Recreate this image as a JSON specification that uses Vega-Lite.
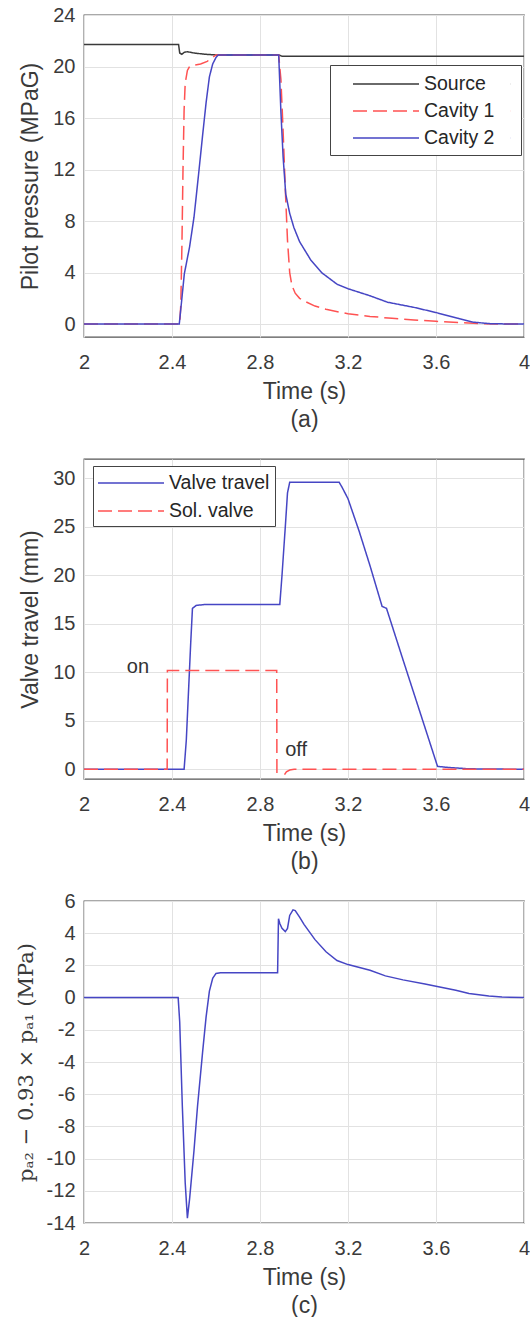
{
  "$schema": "https://vega.github.io/schema/vega-lite/v6.json",
  "padding": {"left": 14, "top": 4, "right": 0, "bottom": 0},
  "background": "white",
  "datasets": {
    "pa": [
      {"s": "Source", "t": 2.0, "v": 21.7}, {"s": "Source", "t": 2.43, "v": 21.7}, {"s": "Source", "t": 2.435, "v": 21.05}, {"s": "Source", "t": 2.445, "v": 20.95}, {"s": "Source", "t": 2.455, "v": 21.1}, {"s": "Source", "t": 2.47, "v": 21.15}, {"s": "Source", "t": 2.5, "v": 21.05}, {"s": "Source", "t": 2.55, "v": 20.95}, {"s": "Source", "t": 2.6, "v": 20.9}, {"s": "Source", "t": 2.885, "v": 20.9}, {"s": "Source", "t": 2.9, "v": 20.8}, {"s": "Source", "t": 4.0, "v": 20.8},
      {"s": "Cavity 1", "t": 2.0, "v": 0}, {"s": "Cavity 1", "t": 2.435, "v": 0}, {"s": "Cavity 1", "t": 2.44, "v": 1.5}, {"s": "Cavity 1", "t": 2.445, "v": 6}, {"s": "Cavity 1", "t": 2.45, "v": 12}, {"s": "Cavity 1", "t": 2.455, "v": 16.6}, {"s": "Cavity 1", "t": 2.46, "v": 18.7}, {"s": "Cavity 1", "t": 2.47, "v": 19.7}, {"s": "Cavity 1", "t": 2.48, "v": 20.0}, {"s": "Cavity 1", "t": 2.5, "v": 20.1}, {"s": "Cavity 1", "t": 2.53, "v": 20.2}, {"s": "Cavity 1", "t": 2.56, "v": 20.4}, {"s": "Cavity 1", "t": 2.58, "v": 20.65}, {"s": "Cavity 1", "t": 2.6, "v": 20.9}, {"s": "Cavity 1", "t": 2.885, "v": 20.9}, {"s": "Cavity 1", "t": 2.895, "v": 19}, {"s": "Cavity 1", "t": 2.905, "v": 15}, {"s": "Cavity 1", "t": 2.915, "v": 10.5}, {"s": "Cavity 1", "t": 2.925, "v": 6.5}, {"s": "Cavity 1", "t": 2.935, "v": 4.0}, {"s": "Cavity 1", "t": 2.945, "v": 3.0}, {"s": "Cavity 1", "t": 2.96, "v": 2.4}, {"s": "Cavity 1", "t": 2.98, "v": 2.0}, {"s": "Cavity 1", "t": 3.0, "v": 1.8}, {"s": "Cavity 1", "t": 3.05, "v": 1.4}, {"s": "Cavity 1", "t": 3.1, "v": 1.15}, {"s": "Cavity 1", "t": 3.2, "v": 0.8}, {"s": "Cavity 1", "t": 3.3, "v": 0.6}, {"s": "Cavity 1", "t": 3.4, "v": 0.45}, {"s": "Cavity 1", "t": 3.5, "v": 0.32}, {"s": "Cavity 1", "t": 3.6, "v": 0.22}, {"s": "Cavity 1", "t": 3.7, "v": 0.12}, {"s": "Cavity 1", "t": 3.8, "v": 0.04}, {"s": "Cavity 1", "t": 3.9, "v": 0}, {"s": "Cavity 1", "t": 4.0, "v": 0},
      {"s": "Cavity 2", "t": 2.0, "v": 0}, {"s": "Cavity 2", "t": 2.433, "v": 0}, {"s": "Cavity 2", "t": 2.445, "v": 2}, {"s": "Cavity 2", "t": 2.456, "v": 3.9}, {"s": "Cavity 2", "t": 2.48, "v": 6.0}, {"s": "Cavity 2", "t": 2.5, "v": 8.3}, {"s": "Cavity 2", "t": 2.52, "v": 11.5}, {"s": "Cavity 2", "t": 2.54, "v": 14.8}, {"s": "Cavity 2", "t": 2.555, "v": 17.2}, {"s": "Cavity 2", "t": 2.57, "v": 19.2}, {"s": "Cavity 2", "t": 2.585, "v": 20.2}, {"s": "Cavity 2", "t": 2.6, "v": 20.7}, {"s": "Cavity 2", "t": 2.61, "v": 20.9}, {"s": "Cavity 2", "t": 2.885, "v": 20.9}, {"s": "Cavity 2", "t": 2.895, "v": 16.5}, {"s": "Cavity 2", "t": 2.905, "v": 13}, {"s": "Cavity 2", "t": 2.917, "v": 10.1}, {"s": "Cavity 2", "t": 2.935, "v": 8.6}, {"s": "Cavity 2", "t": 2.954, "v": 7.5}, {"s": "Cavity 2", "t": 2.98, "v": 6.4}, {"s": "Cavity 2", "t": 3.03, "v": 5.0}, {"s": "Cavity 2", "t": 3.08, "v": 4.0}, {"s": "Cavity 2", "t": 3.15, "v": 3.1}, {"s": "Cavity 2", "t": 3.2, "v": 2.75}, {"s": "Cavity 2", "t": 3.3, "v": 2.2}, {"s": "Cavity 2", "t": 3.38, "v": 1.7}, {"s": "Cavity 2", "t": 3.5, "v": 1.3}, {"s": "Cavity 2", "t": 3.6, "v": 0.9}, {"s": "Cavity 2", "t": 3.7, "v": 0.45}, {"s": "Cavity 2", "t": 3.77, "v": 0.15}, {"s": "Cavity 2", "t": 3.85, "v": 0.03}, {"s": "Cavity 2", "t": 4.0, "v": 0}
    ],
    "pb": [
      {"s": "Valve travel", "t": 2.0, "v": 0}, {"s": "Valve travel", "t": 2.455, "v": 0}, {"s": "Valve travel", "t": 2.465, "v": 3}, {"s": "Valve travel", "t": 2.475, "v": 8}, {"s": "Valve travel", "t": 2.485, "v": 13}, {"s": "Valve travel", "t": 2.493, "v": 16.6}, {"s": "Valve travel", "t": 2.51, "v": 16.9}, {"s": "Valve travel", "t": 2.55, "v": 17.0}, {"s": "Valve travel", "t": 2.89, "v": 17.0}, {"s": "Valve travel", "t": 2.9, "v": 20}, {"s": "Valve travel", "t": 2.915, "v": 25}, {"s": "Valve travel", "t": 2.925, "v": 28.5}, {"s": "Valve travel", "t": 2.935, "v": 29.6}, {"s": "Valve travel", "t": 3.16, "v": 29.6}, {"s": "Valve travel", "t": 3.175, "v": 29.0}, {"s": "Valve travel", "t": 3.2, "v": 27.9}, {"s": "Valve travel", "t": 3.25, "v": 24.6}, {"s": "Valve travel", "t": 3.3, "v": 21.0}, {"s": "Valve travel", "t": 3.355, "v": 16.8}, {"s": "Valve travel", "t": 3.375, "v": 16.6}, {"s": "Valve travel", "t": 3.45, "v": 11.3}, {"s": "Valve travel", "t": 3.5, "v": 7.8}, {"s": "Valve travel", "t": 3.55, "v": 4.3}, {"s": "Valve travel", "t": 3.607, "v": 0.3}, {"s": "Valve travel", "t": 3.65, "v": 0.2}, {"s": "Valve travel", "t": 3.75, "v": 0.05}, {"s": "Valve travel", "t": 4.0, "v": 0},
      {"s": "Sol. valve", "t": 2.0, "v": 0}, {"s": "Sol. valve", "t": 2.378, "v": 0}, {"s": "Sol. valve", "t": 2.379, "v": 10.2}, {"s": "Sol. valve", "t": 2.876, "v": 10.2}, {"s": "Sol. valve", "t": 2.877, "v": -1.5}, {"s": "Sol. valve", "t": 2.903, "v": -1.5}, {"s": "Sol. valve", "t": 2.91, "v": -0.6}, {"s": "Sol. valve", "t": 2.92, "v": -0.25}, {"s": "Sol. valve", "t": 2.935, "v": -0.08}, {"s": "Sol. valve", "t": 2.955, "v": 0}, {"s": "Sol. valve", "t": 4.0, "v": 0}
    ],
    "pbtext": [
      {"t": 2.245, "v": 10.6, "label": "on"},
      {"t": 2.964, "v": 2.0, "label": "off"}
    ],
    "pc": [
      {"t": 2.0, "v": 0}, {"t": 2.428, "v": 0}, {"t": 2.435, "v": -1.5}, {"t": 2.447, "v": -6.75}, {"t": 2.46, "v": -11.5}, {"t": 2.47, "v": -13.7}, {"t": 2.48, "v": -12.5}, {"t": 2.5, "v": -9.5}, {"t": 2.516, "v": -6.75}, {"t": 2.539, "v": -3.4}, {"t": 2.555, "v": -1.2}, {"t": 2.57, "v": 0.4}, {"t": 2.585, "v": 1.2}, {"t": 2.6, "v": 1.5}, {"t": 2.62, "v": 1.55}, {"t": 2.88, "v": 1.55}, {"t": 2.884, "v": 4.9}, {"t": 2.89, "v": 4.6}, {"t": 2.9, "v": 4.3}, {"t": 2.915, "v": 4.1}, {"t": 2.925, "v": 4.3}, {"t": 2.935, "v": 5.1}, {"t": 2.95, "v": 5.45}, {"t": 2.96, "v": 5.4}, {"t": 2.98, "v": 5.0}, {"t": 3.0, "v": 4.55}, {"t": 3.05, "v": 3.6}, {"t": 3.1, "v": 2.85}, {"t": 3.15, "v": 2.3}, {"t": 3.2, "v": 2.05}, {"t": 3.3, "v": 1.7}, {"t": 3.37, "v": 1.35}, {"t": 3.45, "v": 1.1}, {"t": 3.55, "v": 0.85}, {"t": 3.6, "v": 0.7}, {"t": 3.69, "v": 0.45}, {"t": 3.75, "v": 0.25}, {"t": 3.84, "v": 0.1}, {"t": 3.9, "v": 0.03}, {"t": 4.0, "v": 0}
    ]
  },
  "bounds": "flush",
  "spacing": 122,
  "vconcat": [
    {
      "width": 440,
      "height": 322,
      "data": {"name": "pa"},
      "mark": {"type": "line", "strokeWidth": 1.5, "clip": true},
      "encoding": {
        "x": {"field": "t", "type": "quantitative", "scale": {"domain": [2, 4], "nice": false, "zero": false}, "axis": {"values": [2, 2.4, 2.8, 3.2, 3.6, 4], "title": ["Time (s)", "(a)"]}},
        "y": {"field": "v", "type": "quantitative", "scale": {"domain": [-1, 24], "nice": false, "zero": false}, "axis": {"values": [0, 4, 8, 12, 16, 20, 24], "title": "Pilot pressure (MPaG)"}},
        "color": {"field": "s", "type": "nominal", "scale": {"domain": ["Source", "Cavity 1", "Cavity 2"], "range": ["#3a3a3a", "#ff5252", "#4646c4"]},
          "legend": {"title": null, "orient": "none", "legendX": 246, "legendY": 50, "padding": 7, "symbolType": "M-3,0H3M11.3,0H11.31", "symbolSize": 484, "symbolOffset": 37, "labelOffset": 26, "rowPadding": 5}},
        "strokeDash": {"field": "s", "type": "nominal", "scale": {"domain": ["Source", "Cavity 1", "Cavity 2"], "range": [[1, 0], [14, 6], [1, 0]]},
          "legend": {"title": null, "orient": "none", "legendX": 246, "legendY": 50, "padding": 7, "symbolType": "M-3,0H3M11.3,0H11.31", "symbolSize": 484, "symbolOffset": 37, "labelOffset": 26, "rowPadding": 5}}
      }
    },
    {
      "width": 440,
      "height": 320,
      "layer": [
        {
          "data": {"name": "pb"},
          "mark": {"type": "line", "strokeWidth": 1.5, "clip": true},
          "encoding": {
            "x": {"field": "t", "type": "quantitative", "scale": {"domain": [2, 4], "nice": false, "zero": false}, "axis": {"values": [2, 2.4, 2.8, 3.2, 3.6, 4], "title": ["Time (s)", "(b)"]}},
            "y": {"field": "v", "type": "quantitative", "scale": {"domain": [-1, 32], "nice": false, "zero": false}, "axis": {"values": [0, 5, 10, 15, 20, 25, 30], "title": "Valve travel (mm)"}},
            "color": {"field": "s", "type": "nominal", "scale": {"domain": ["Valve travel", "Sol. valve"], "range": ["#4646c4", "#ff5252"]},
              "legend": {"title": null, "orient": "none", "legendX": 9, "legendY": 7, "padding": 5, "symbolType": "M-3,0H3", "symbolSize": 484, "symbolOffset": 21, "labelOffset": 26, "rowPadding": 6}},
            "strokeDash": {"field": "s", "type": "nominal", "scale": {"domain": ["Valve travel", "Sol. valve"], "range": [[1, 0], [14, 6]]},
              "legend": {"title": null, "orient": "none", "legendX": 9, "legendY": 7, "padding": 5, "symbolType": "M-3,0H3", "symbolSize": 484, "symbolOffset": 21, "labelOffset": 26, "rowPadding": 6}}
          }
        },
        {
          "data": {"name": "pbtext"},
          "mark": {"type": "text", "font": "Liberation Sans", "fontSize": 20, "color": "#333333", "baseline": "middle", "align": "center"},
          "encoding": {
            "x": {"field": "t", "type": "quantitative"},
            "y": {"field": "v", "type": "quantitative"},
            "text": {"field": "label"}
          }
        }
      ]
    },
    {
      "width": 440,
      "height": 322,
      "data": {"name": "pc"},
      "mark": {"type": "line", "strokeWidth": 1.5, "color": "#4646c4", "clip": true},
      "encoding": {
        "x": {"field": "t", "type": "quantitative", "scale": {"domain": [2, 4], "nice": false, "zero": false}, "axis": {"values": [2, 2.4, 2.8, 3.2, 3.6, 4], "title": ["Time (s)", "(c)"]}},
        "y": {"field": "v", "type": "quantitative", "scale": {"domain": [-14, 6], "nice": false, "zero": false}, "axis": {"values": [-14, -12, -10, -8, -6, -4, -2, 0, 2, 4, 6], "title": "pₐ₂ − 0.93 × pₐ₁ (MPa)", "titleFont": "DejaVu Serif", "titleFontSize": 21}}
      }
    }
  ],
  "resolve": {"scale": {"color": "independent", "strokeDash": "independent", "x": "independent", "y": "independent"}, "legend": {"color": "independent", "strokeDash": "independent"}},
  "config": {
    "font": "Liberation Sans",
    "view": {"stroke": "#555555", "strokeWidth": 1.3},
    "axis": {"labelFont": "Liberation Sans", "labelFontSize": 20, "labelColor": "#3a3a3a", "titleFont": "Liberation Sans", "titleFontSize": 23, "titleFontWeight": "normal", "titleColor": "#3a3a3a", "gridColor": "#e2e2e2", "gridWidth": 1, "domain": false, "ticks": false, "labelExpr": "toString(datum.value)", "labelFlush": false, "labelOverlap": false},
    "axisX": {"labelPadding": 15, "titlePadding": 8, "titleLineHeight": 28},
    "axisY": {"labelPadding": 9, "titlePadding": 10},
    "legend": {"labelFont": "Liberation Sans", "labelFontSize": 19.5, "labelColor": "#262626", "symbolStrokeWidth": 1.5, "strokeColor": "#444444", "fillColor": "white"}
  }
}
